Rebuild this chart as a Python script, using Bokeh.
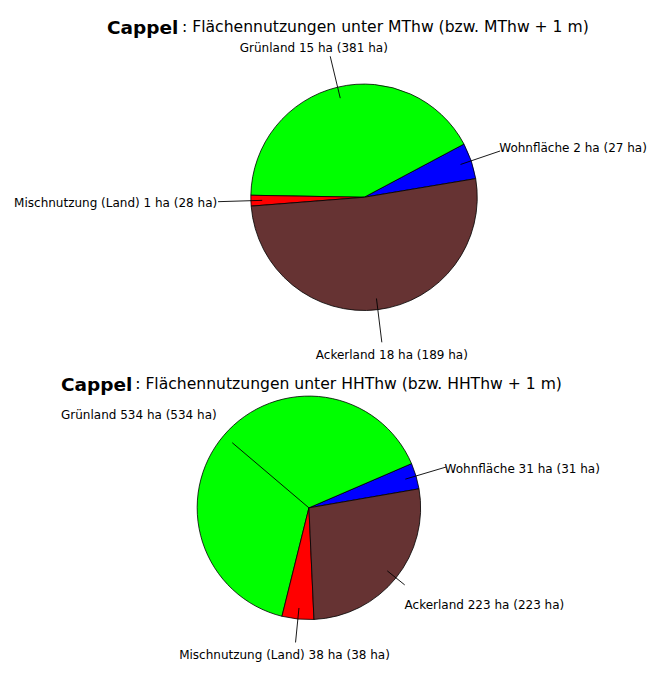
import math
from bokeh.plotting import figure
from bokeh.models import ColumnDataSource, Range1d
from bokeh.core.properties import value
from bokeh.embed import file_html
from bokeh.resources import INLINE

# ---------------- data ----------------
categories = ["Wohnfläche", "Grünland", "Mischnutzung (Land)", "Ackerland"]
colors = ["#0000ff", "#00ff00", "#ff0000", "#663333"]

mthw_ha = [1.85, 15.05, 0.55, 18.45]          # area below MThw (slice sizes)
mthw_plus1_ha = [27, 381, 28, 189]            # area below MThw + 1 m
hhthw_ha = [31, 534, 38, 223]                 # area below HHThw
hhthw_plus1_ha = [31, 534, 38, 223]           # area below HHThw + 1 m

place = "Cappel"
title_mthw = ": Flächennutzungen unter MThw (bzw. MThw + 1 m)"
title_hhthw = ": Flächennutzungen unter HHThw (bzw. HHThw + 1 m)"

# ---------------- layout (reference-picture pixels, y downward) ----------------
pies = [
    dict(values=mthw_ha, values2=mthw_plus1_ha, title=title_mthw,
         cx=372.5, cy=201.5, r=116, start=9.5,
         title_x=109, title_colon_x=186, title_y=27.5,
         line_r=[(0.9, 1.27), (0.9, 1.28), (0.9, 1.29), (0.9, 1.29)],
         lab=[(511, 151, "left"), (321, 49, "center"), (222, 207, "right"), (401, 363, "center")]),
    dict(values=hhthw_ha, values2=hhthw_plus1_ha, title=title_hhthw,
         cx=316, cy=519.5, r=114.5, start=9.8,
         title_x=62, title_colon_x=138, title_y=393,
         line_r=[(0.9, 1.28), (0.0, 0.9), (0.9, 1.21), (0.9, 1.1)],
         lab=[(455, 479.5, "left"), (62, 424, "left"), (291, 670, "center"), (414, 619.5, "left")]),
]

FONT = value("DejaVu Sans")

p = figure(width=650, height=667, x_range=Range1d(0, 666), y_range=Range1d(-683, 0),
           output_backend="svg", toolbar_location=None, min_border=0,
           x_axis_location=None, y_axis_location=None)
p.xgrid.visible = False
p.ygrid.visible = False
p.outline_line_color = None
p.background_fill_color = "white"
p.border_fill_color = "white"

for pie in pies:
    vals = pie["values"]
    total = sum(vals)
    starts, ends, mids = [], [], []
    a = math.radians(pie["start"])
    for v in vals:
        da = 2 * math.pi * v / total
        starts.append(a)
        ends.append(a + da)
        mids.append(a + da / 2)
        a += da
    n = len(vals)
    src = ColumnDataSource(dict(
        x=[pie["cx"]] * n, y=[-pie["cy"]] * n, r=[pie["r"]] * n,
        start=starts, end=ends, color=colors))
    p.wedge(x="x", y="y", radius="r", start_angle="start", end_angle="end",
            direction="anticlock", fill_color="color", line_color="black",
            line_width=0.8, source=src)

    # label leader lines
    x0, y0, x1, y1 = [], [], [], []
    for m, (ri, ro) in zip(mids, pie["line_r"]):
        x0.append(pie["cx"] + ri * pie["r"] * math.cos(m))
        y0.append(-pie["cy"] + ri * pie["r"] * math.sin(m))
        x1.append(pie["cx"] + ro * pie["r"] * math.cos(m))
        y1.append(-pie["cy"] + ro * pie["r"] * math.sin(m))
    p.segment(x0=x0, y0=y0, x1=x1, y1=y1, line_color="black", line_width=0.9)

    # labels
    for cat, v, v2, (lx, ly, al) in zip(categories, vals, pie["values2"], pie["lab"]):
        txt = f"{cat} {round(v)} ha ({v2} ha)"
        p.text(x=[lx], y=[-ly], text=[txt], text_font=FONT,
               text_font_size=value("12px"), text_align=al,
               text_baseline="alphabetic", text_color="black")

    # title
    p.text(x=[pie["title_x"]], y=[-pie["title_y"]], text=[place], text_font=FONT,
           text_font_size=value("18.5px"), text_font_style="bold", text_align="left",
           text_baseline="alphabetic", text_color="black")
    p.text(x=[pie["title_colon_x"]], y=[-pie["title_y"]], text=[pie["title"]], text_font=FONT,
           text_font_size=value("15.6px"), text_align="left",
           text_baseline="alphabetic", text_color="black")

open("out.html", "w").write(file_html(p, INLINE))
